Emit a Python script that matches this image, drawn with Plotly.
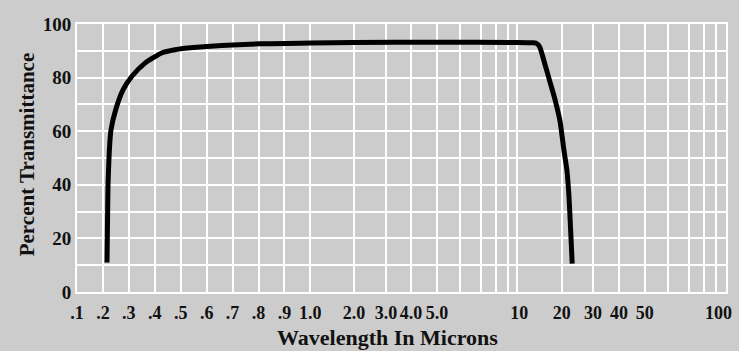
import numpy as np
import plotly.graph_objects as go

# Transmission curve (wavelength in microns, percent transmittance)
wavelength = [0.2157, 0.2175, 0.2196, 0.2234, 0.2273, 0.2311, 0.2492, 0.2774,
              0.311, 0.3622, 0.4267, 0.478, 0.549, 0.806, 1.0, 2.0, 5.0, 10.0,
              13.5, 14.2, 14.7, 15.11, 16.22, 17.33, 18.44, 19.56, 20.65,
              21.61, 22.26, 22.74, 23.06, 23.32]
transmittance = [11.0, 25.0, 40.0, 50.0, 56.7, 60.5, 68.0, 75.4,
                 80.4, 85.4, 89.2, 90.4, 91.2, 92.6, 92.9, 93.1, 93.2, 93.1,
                 93.0, 92.9, 92.3, 91.2, 85.0, 78.5, 72.0, 64.0, 53.0,
                 45.5, 36.0, 25.0, 17.0, 10.6]

# Chart scale: grid wavelengths and their place along the x axis
grid_wl = [0.1, 0.2, 0.3, 0.4, 0.5, 0.6, 0.7, 0.8, 0.9, 1.0,
           2, 3, 4, 5, 6, 7, 8, 9, 10,
           20, 30, 40, 50, 60, 70, 80, 90, 100]
grid_pos = [0, 1, 2, 3, 4, 5, 6, 7, 8, 9,
            10.68, 11.92, 12.88, 13.88, 14.77, 15.58, 16.16, 16.62, 16.97,
            18.70, 19.90, 20.90, 21.90, 22.79, 23.60, 24.18, 24.64, 25.03]
grid_text = [".1", ".2", ".3", ".4", ".5", ".6", ".7", ".8", ".9", "1.0",
             "2.0", "3.0", "4.0", "5.0", "", "", "", "", "\u00a010",
             "20", "30", "40", "50", "", "", "", "", ""]
# the last label sits just inside the right edge of the grid
end_wl = [100]
end_text = ["100"]

y_ticks = list(range(0, 101, 10))
y_text = [str(v) if v % 20 == 0 else "" for v in y_ticks]


def to_axis(wl):
    return np.interp(wl, grid_wl, grid_pos)


def bold(labels):
    return [f"<b>{t}</b>" if t else "" for t in labels]


BG = "#cccccc"
FONT = "Liberation Serif, serif"
INK = "#111111"
X_RANGE = [0, grid_pos[-1]]
TICK_FONT = dict(family=FONT, size=18, color=INK)

fig = go.Figure()
fig.add_trace(
    go.Scatter(
        x=to_axis(wavelength),
        y=transmittance,
        mode="lines",
        line=dict(color="black", width=5, shape="spline", smoothing=0.6),
        hoverinfo="skip",
    )
)
# empty trace that keeps the label-only axis on the page
fig.add_trace(go.Scatter(x=[], y=[], xaxis="x2", hoverinfo="skip"))

fig.update_layout(
    width=739,
    height=351,
    margin=dict(l=77, r=13, t=24, b=59),
    paper_bgcolor=BG,
    plot_bgcolor=BG,
    showlegend=False,
    font=dict(family=FONT, color=INK, size=18),
    annotations=[
        dict(text="<b>Wavelength In Microns</b>", xref="paper", yref="paper",
             x=0.478, y=-0.168, xanchor="center", yanchor="middle",
             showarrow=False, font=dict(family=FONT, size=22, color=INK)),
        dict(text="<b>Percent Transmittance</b>", xref="paper", yref="paper",
             x=-0.077, y=0.514, xanchor="center", yanchor="middle",
             textangle=-90, showarrow=False,
             font=dict(family=FONT, size=21, color=INK)),
    ],
    xaxis=dict(
        range=X_RANGE,
        automargin=False,
        tickmode="array",
        tickvals=grid_pos,
        ticktext=bold(grid_text),
        tickangle=0,
        ticklabelstandoff=3,
        showgrid=True,
        gridcolor="white",
        gridwidth=1.5,
        zeroline=False,
        showline=True,
        linecolor="white",
        linewidth=2,
        mirror=True,
        ticks="",
        tickfont=TICK_FONT,
    ),
    xaxis2=dict(
        overlaying="x",
        side="bottom",
        anchor="y",
        range=X_RANGE,
        automargin=False,
        tickmode="array",
        tickvals=to_axis(end_wl),
        ticktext=bold(end_text),
        tickangle=0,
        ticklabelposition="outside left",
        ticklabelshift=6,
        ticklabelstandoff=8,
        showgrid=False,
        zeroline=False,
        showline=False,
        ticks="",
        tickfont=TICK_FONT,
    ),
    yaxis=dict(
        range=[0, 100],
        automargin=False,
        tickmode="array",
        tickvals=y_ticks,
        ticktext=bold(y_text),
        showgrid=True,
        gridcolor="white",
        gridwidth=1.5,
        zeroline=False,
        showline=True,
        linecolor="white",
        linewidth=2,
        mirror=True,
        ticks="",
        tickfont=dict(family=FONT, size=19, color=INK),
    ),
)

fig.write_html("out.html")
